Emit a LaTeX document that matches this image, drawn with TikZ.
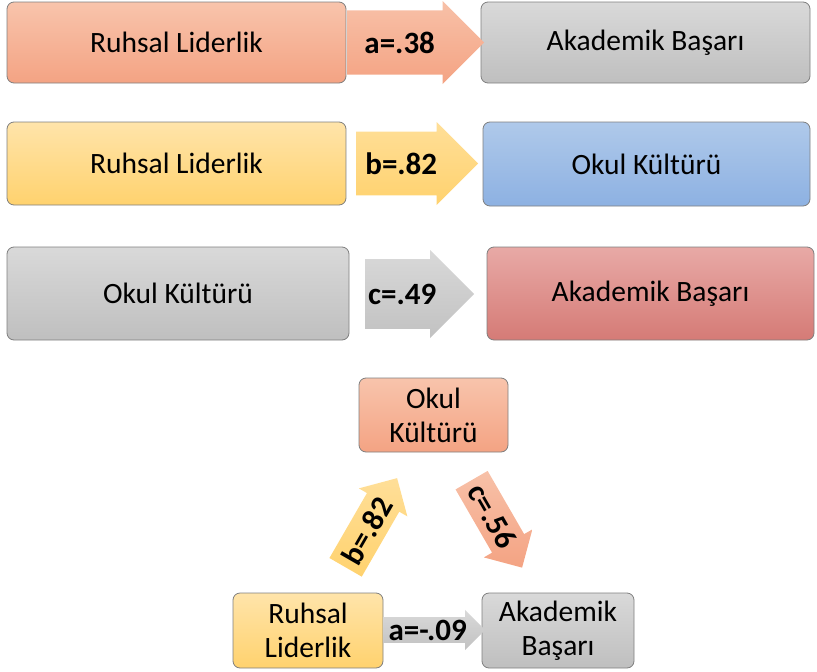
\documentclass[tikz,border=0pt]{standalone}
\usepackage{fontspec}
\setmainfont{Carlito}
\usetikzlibrary{shapes.arrows}

\definecolor{boxline}{HTML}{7F7F7F}
\definecolor{salT}{HTML}{F8C4AC}
\definecolor{salB}{HTML}{F4A383}
\definecolor{grayT}{HTML}{D9D9D9}
\definecolor{grayB}{HTML}{BFBFBF}
\definecolor{yelT}{HTML}{FFE4AA}
\definecolor{yelB}{HTML}{FFD26E}
\definecolor{bluT}{HTML}{AFC9EA}
\definecolor{bluB}{HTML}{8DB1E2}
\definecolor{redT}{HTML}{E8A9A6}
\definecolor{redB}{HTML}{D57B76}

\begin{document}
\begin{tikzpicture}[x=1pt,y=-1pt,
    box/.style={draw=boxline,line width=0.8pt,rounded corners=7pt,align=center,inner sep=0pt,
        font=\fontsize{29.5}{34}\selectfont},
    arr/.style={single arrow,single arrow tip angle=90,inner xsep=0pt,anchor=tail,
        font=\fontsize{31}{34}\selectfont\bfseries}]
    \useasboundingbox (0,0) rectangle (817,672);

    % row 1
    \node[box,top color=salT,bottom color=salB,minimum width=339pt,minimum height=81pt] (rl1) at (176.5,42.5) {Ruhsal Liderlik};
    \node[box,top color=grayT,bottom color=grayB,minimum width=329pt,minimum height=81pt] (ab1) at (645.5,42.5) {Akademik Başarı};
    \node[arr,top color=salT!90!salB,bottom color=salB,minimum height=137pt,minimum width=83pt,inner ysep=13pt] (a1) at (347,42.5) {a=.38};

    % row 2
    \node[box,top color=yelT,bottom color=yelB,minimum width=339pt,minimum height=83pt] (rl2) at (176.5,163.5) {Ruhsal Liderlik};
    \node[box,top color=bluT,bottom color=bluB,minimum width=327pt,minimum height=84pt] (ok2) at (646.5,164) {Okul Kültürü};
    \node[arr,top color=yelT!70!yelB,bottom color=yelB,minimum height=122pt,minimum width=83pt,inner ysep=12.5pt] (b2) at (356,163.5) {b=.82};

    % row 3
    \node[box,top color=grayT,bottom color=grayB,minimum width=342pt,minimum height=93pt] (ok3) at (178,293.5) {Okul Kültürü};
    \node[box,top color=redT,bottom color=redB,minimum width=327pt,minimum height=93pt] (ab3) at (650.5,293.5) {Akademik Başarı};
    \node[arr,top color=grayT,bottom color=grayB!90!grayT,minimum height=109pt,minimum width=88pt,inner ysep=17pt] (c3) at (365,294) {c=.49};

    % triangle
    \node[box,top color=salT,bottom color=salB,minimum width=149pt,minimum height=74pt] (ok4) at (433.5,415) {Okul\\Kültürü};
    \node[box,top color=yelT,bottom color=yelB,minimum width=150pt,minimum height=75pt] (rl4) at (308,630.5) {Ruhsal\\Liderlik};
    \node[box,top color=grayT,bottom color=grayB,minimum width=152pt,minimum height=75pt] (ab4) at (558,630.5) {Akademik\\Başarı};
    \node[arr,top color=grayT,bottom color=grayB!90!grayT,minimum height=102pt,minimum width=38pt,inner ysep=2.5pt] (a4) at (383,630) {a=-.09};
    \node[arr,rotate=60,top color=yelT!70!yelB,bottom color=yelB,minimum height=103pt,minimum width=56pt,inner ysep=3pt] (b4) at (345.5,567.5) {b=.82};
    \node[arr,rotate=-60,top color=salT!90!salB,bottom color=salB,minimum height=101pt,minimum width=56pt,inner ysep=3pt] (c4) at (471.5,480) {c=.56};
\end{tikzpicture}
\end{document}
